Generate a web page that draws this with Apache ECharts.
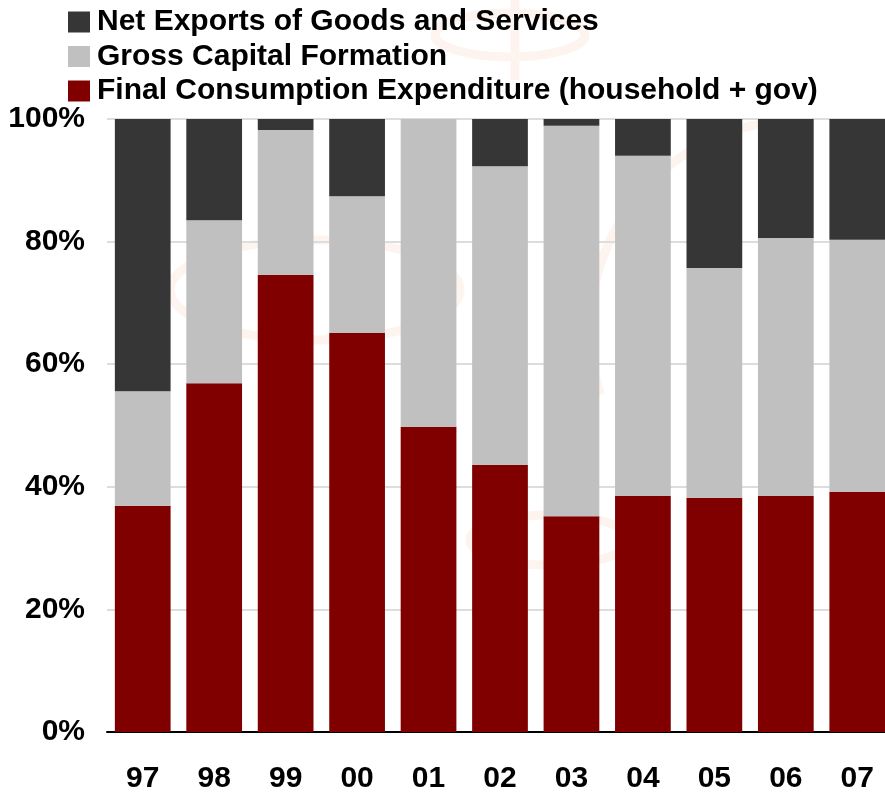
<!DOCTYPE html>
<html>
<head>
<meta charset="utf-8">
<script src="https://cdn.jsdelivr.net/npm/echarts@6/dist/echarts.min.js"></script>
<style>
  html, body { margin: 0; padding: 0; background: #ffffff; }
  #chart { width: 885px; height: 792px; }
</style>
</head>
<body>
<div id="chart"></div>
<script>
// Years (two-digit labels)
var years = ['97', '98', '99', '00', '01', '02', '03', '04', '05', '06', '07'];

// Shares of GDP by expenditure component, in percent
var finalConsumption = [36.9, 56.9, 74.6, 65.1, 49.8, 43.6, 35.2, 38.5, 38.2, 38.5, 39.2];
var grossCapital     = [18.7, 26.6, 23.6, 22.3, 50.2, 48.7, 63.7, 55.5, 37.5, 42.1, 41.1];
var netExports       = [44.4, 16.5,  1.8, 12.6,  0.0,  7.7,  1.1,  6.0, 24.3, 19.4, 19.7];

var yTicks = [0, 20, 40, 60, 80, 100];

var names = {
  fce: 'Final Consumption Expenditure (household + gov)',
  gcf: 'Gross Capital Formation',
  nx: 'Net Exports of Goods and Services'
};

var font = '"Liberation Sans", Arial, sans-serif';
var chart = echarts.init(document.getElementById('chart'), null, { renderer: 'canvas' });

// faint background emblem strokes
var wm = '#fef4ef';
var emblem = [
  { type: 'line', shape: { x1: 515, y1: 0, x2: 515, y2: 80 } },
  { type: 'ellipse', shape: { cx: 510, cy: 35, rx: 75, ry: 22 } },
  { type: 'ellipse', shape: { cx: 315, cy: 290, rx: 145, ry: 50 } },
  { type: 'ellipse', shape: { cx: 550, cy: 540, rx: 80, ry: 25 } },
  { type: 'arc', shape: { cx: 800, cy: 330, r: 210, startAngle: Math.PI * 0.9, endAngle: Math.PI * 1.45 } }
].map(function (g) {
  g.silent = true;
  g.z = -10;
  g.style = { fill: null, stroke: wm, lineWidth: 9 };
  return g;
});

chart.setOption({
  backgroundColor: '#ffffff',
  animation: false,
  graphic: emblem,
  legend: {
    orient: 'vertical',
    left: 68,
    top: 5,
    padding: 0,
    itemWidth: 22,
    itemHeight: 21,
    itemGap: 0.5,
    icon: 'rect',
    data: [names.nx, names.gcf, names.fce],
    textStyle: {
      fontFamily: font, fontWeight: 'bold', fontSize: 30, lineHeight: 34,
      color: '#000000', padding: [0, 0, 0, 2]
    }
  },
  grid: {
    left: 107,
    top: 119,
    width: 786,
    height: 613,
    outerBoundsMode: 'none',
    containLabel: false
  },
  xAxis: {
    type: 'category',
    data: years,
    axisLine: { show: true, lineStyle: { color: '#000000', width: 2 } },
    axisTick: { show: false },
    axisLabel: { fontFamily: font, fontWeight: 'bold', fontSize: 30, color: '#000000', margin: 32 }
  },
  yAxis: {
    type: 'value',
    min: yTicks[0],
    max: yTicks[yTicks.length - 1],
    interval: yTicks[1] - yTicks[0],
    axisLine: { show: false },
    axisTick: { show: false },
    splitLine: { show: true, lineStyle: { color: '#dddddd', width: 2 } },
    axisLabel: {
      formatter: '{value}%',
      fontFamily: font, fontWeight: 'bold', fontSize: 30, color: '#000000', margin: 22
    }
  },
  series: [
    {
      name: names.fce, type: 'bar', stack: 'total', data: finalConsumption,
      barCategoryGap: '22%', itemStyle: { color: '#800000' }
    },
    {
      name: names.gcf, type: 'bar', stack: 'total', data: grossCapital,
      itemStyle: { color: '#c0c0c0' }
    },
    {
      name: names.nx, type: 'bar', stack: 'total', data: netExports,
      itemStyle: { color: '#363636' }
    }
  ]
});
</script>
</body>
</html>
